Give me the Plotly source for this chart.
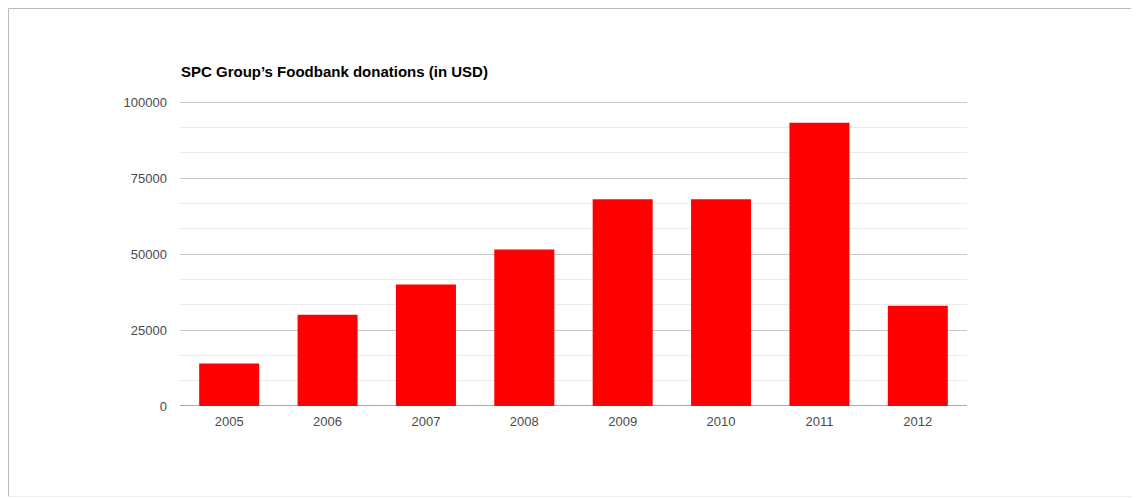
import plotly.graph_objects as go

years = ["2005", "2006", "2007", "2008", "2009", "2010", "2011", "2012"]
donations = [14000, 30000, 40000, 51500, 68000, 68000, 93200, 33000]
y_ticks = [0, 25000, 50000, 75000, 100000]
title_text = "SPC Group\u2019s Foodbank donations (in USD)"

OFF = 8  # page body margin
Y_MAX = 101000
W, H = 1139 - OFF, 498 - OFF
L, R, B = 180 - OFF, 172, 92
ph_target = 304  # pixels for 0..100000
ph = round(ph_target * Y_MAX / 100000)
T = H - B - ph
pw = W - L - R

def px(x):
    return (x - OFF - L) / pw

def py(y):
    return (H - B - (y - OFF)) / ph

fig = go.Figure(go.Bar(x=years, y=donations, marker=dict(color="#ff0000", line=dict(width=0))))

fig.update_layout(
    width=W, height=H,
    margin=dict(l=L, r=R, t=T, b=B),
    paper_bgcolor="white", plot_bgcolor="white",
    bargap=0.39,
    showlegend=False,
    font=dict(family="Liberation Sans, Arial, sans-serif", color="#4a4a4a", size=13),
    title=dict(text="<b>" + title_text + "</b>", x=(181 - OFF) / W, xanchor="left",
               y=1 - (72 - OFF) / H, yanchor="middle",
               font=dict(size=15, color="#000000", family="Liberation Sans, Arial, sans-serif")),
    xaxis=dict(showgrid=False, showline=False, ticks="", ticklabelstandoff=6,
               tickfont=dict(size=13, color="#4a4a4a")),
    yaxis=dict(range=[0, Y_MAX], tickvals=y_ticks, ticktext=[str(v) for v in y_ticks],
               showgrid=True, gridcolor="#c8c8c8", gridwidth=1, zeroline=False,
               showline=False, ticks="", ticklabelstandoff=12,
               tickfont=dict(size=13, color="#4a4a4a"),
               minor=dict(dtick=25000 / 3, tick0=0, showgrid=True, gridcolor="#ebebeb",
                          gridwidth=1, ticks="")),
    shapes=[
        dict(type="line", xref="paper", yref="paper", x0=px(8.5), x1=px(1139), y0=py(8.5), y1=py(8.5),
             line=dict(color="#bbbbbb", width=1)),
        dict(type="line", xref="paper", yref="paper", x0=px(8.5), x1=px(8.5), y0=py(8.5), y1=py(497),
             line=dict(color="#bbbbbb", width=1)),
        dict(type="line", xref="paper", yref="paper", x0=px(8.5), x1=px(1136), y0=py(496.5), y1=py(496.5),
             line=dict(color="#f0f0f0", width=1)),
        dict(type="line", xref="paper", yref="paper", x0=px(1136), x1=px(1136), y0=py(8.5), y1=py(497),
             line=dict(color="#f0f0f0", width=1)),
        dict(type="line", xref="paper", yref="y", x0=0, x1=1, y0=0, y1=0,
             line=dict(color="#555555", width=1)),
    ],
)

fig.write_html("out.html")
